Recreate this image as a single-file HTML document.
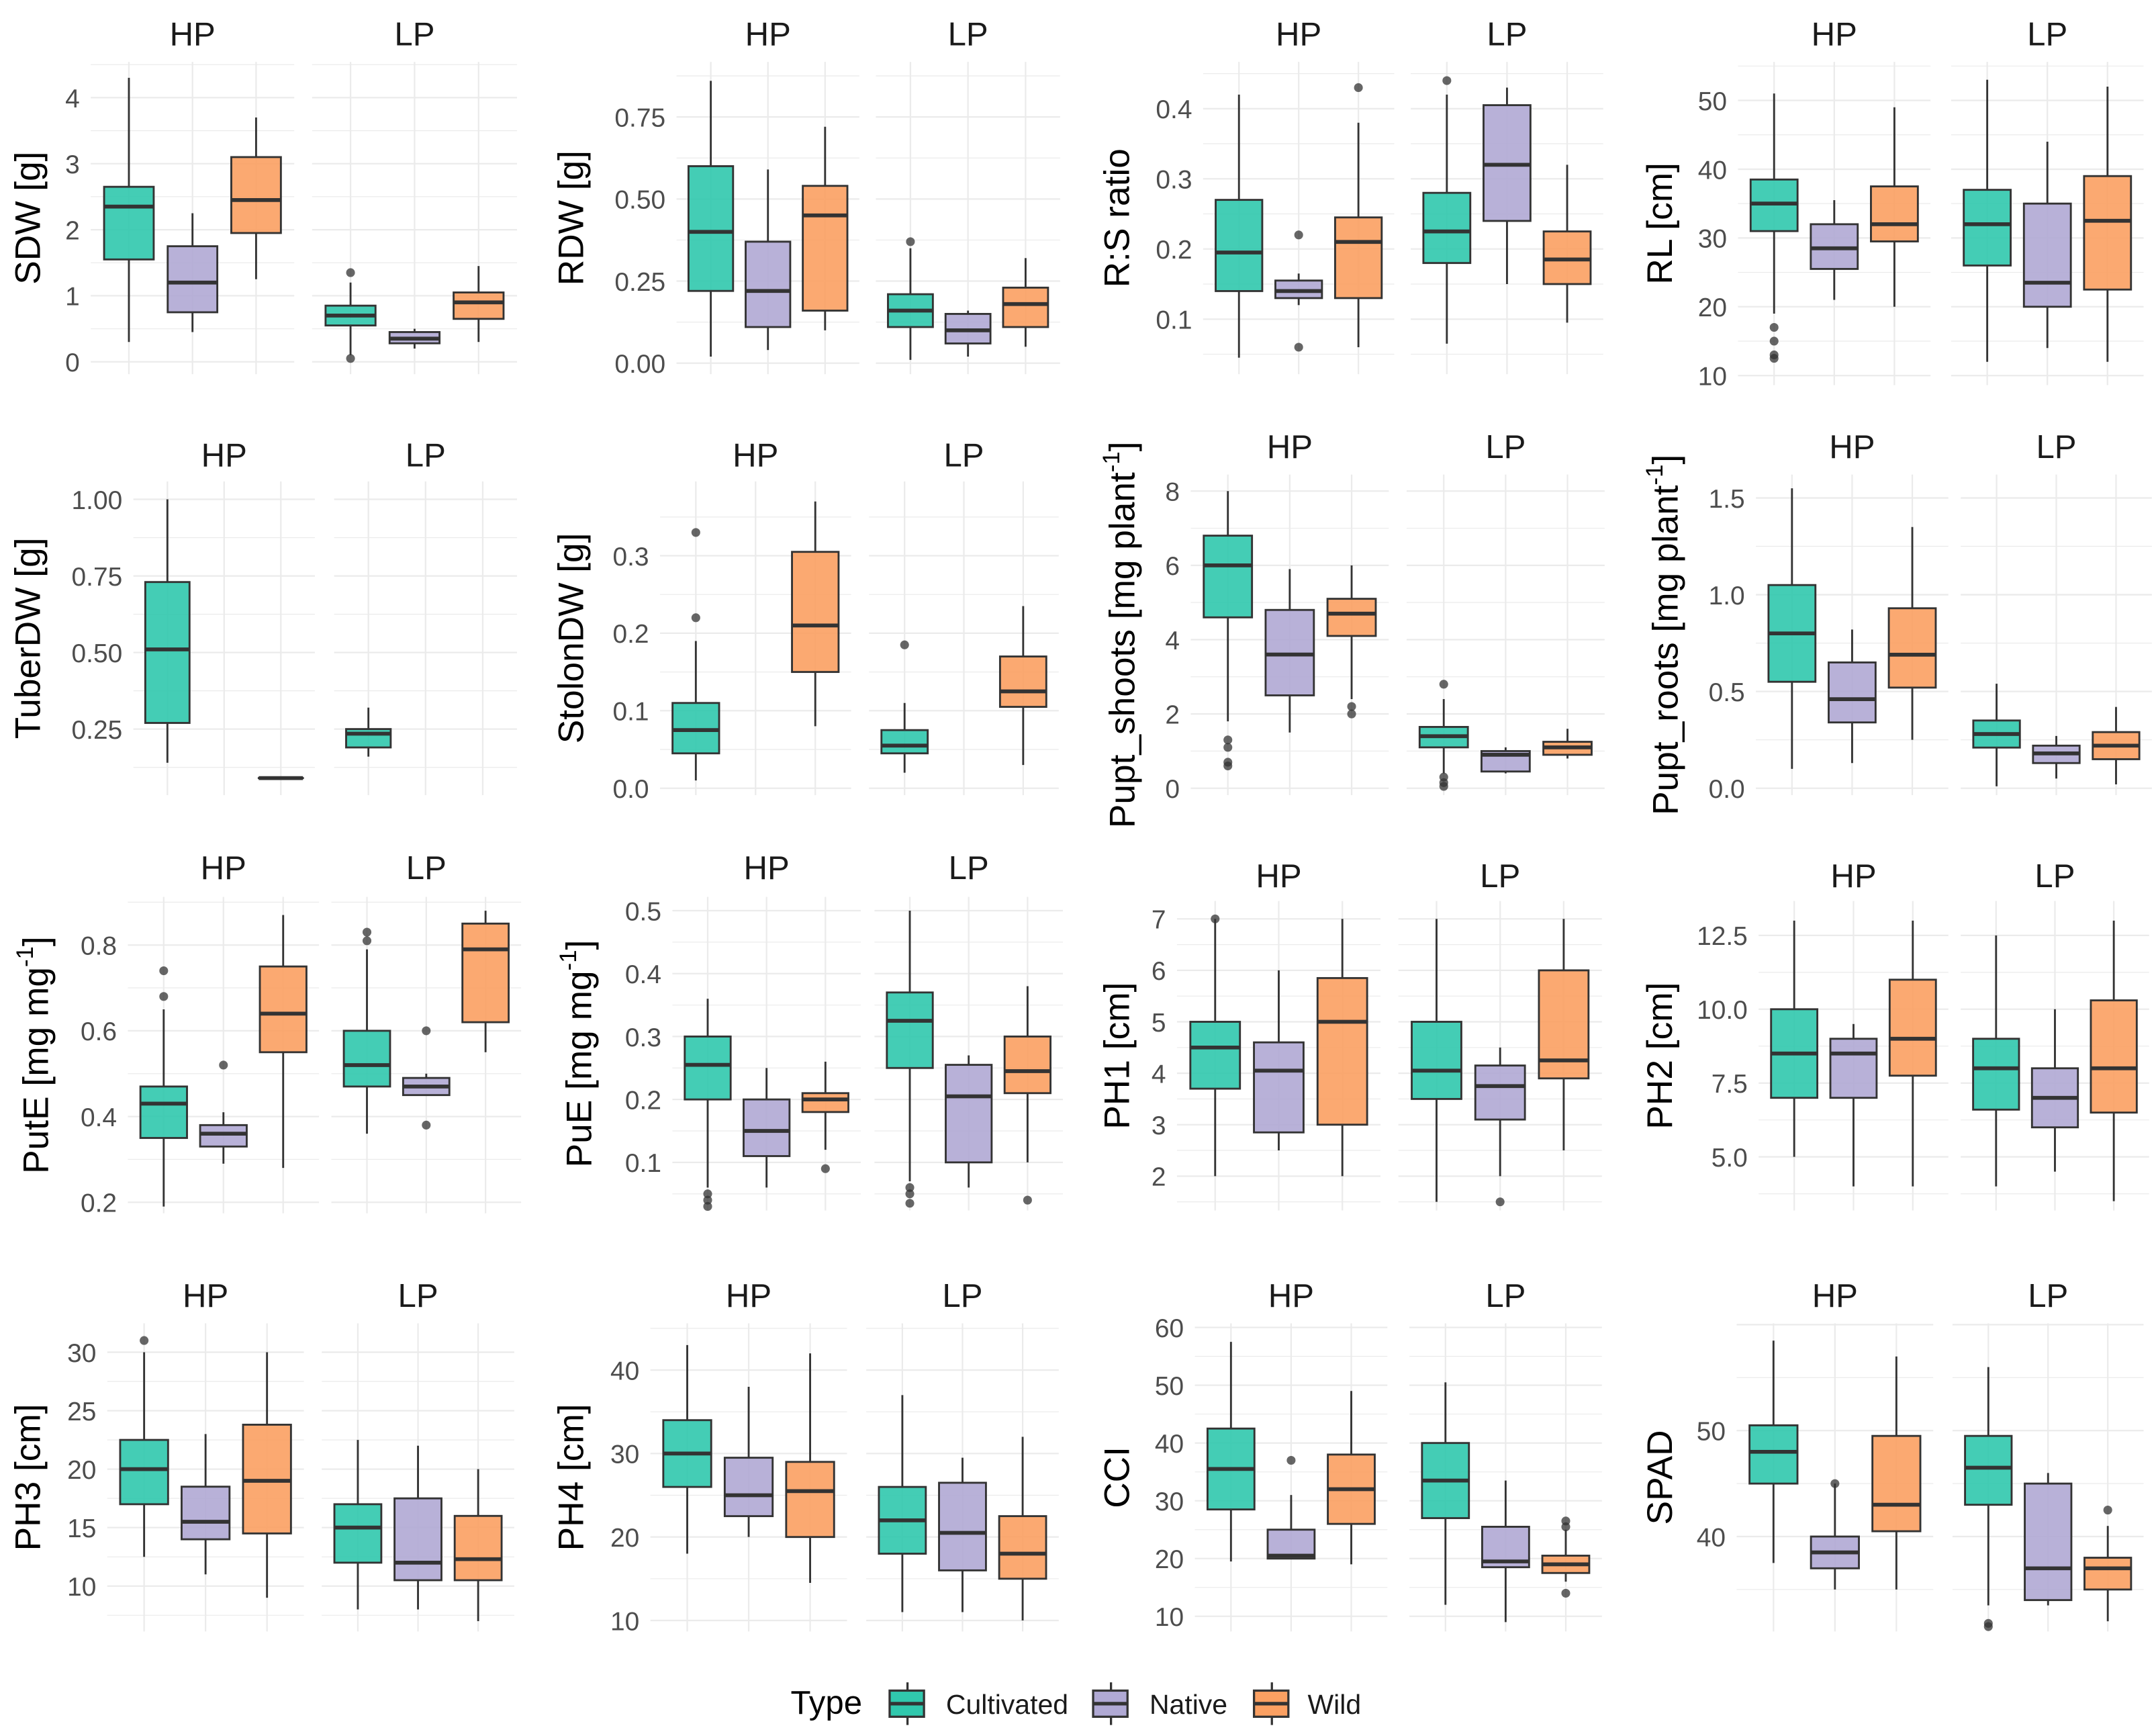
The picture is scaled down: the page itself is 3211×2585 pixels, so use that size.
<!DOCTYPE html>
<html><head><meta charset="utf-8">
<style>
html,body{margin:0;padding:0;background:#fff;}
svg{display:block;}
text{font-family:"Liberation Sans",Arial,sans-serif;}
</style></head>
<body>
<svg id="chart" xmlns="http://www.w3.org/2000/svg" width="3211" height="2585" viewBox="0 0 1568 1262" preserveAspectRatio="none">
<rect width="1568" height="1262" fill="#fff"/>
<g id="legend">
  <text x="575" y="1246" font-size="24" fill="#000">Type</text>
  <g>
    <line x1="660" y1="1223" x2="660" y2="1254" stroke="#333" stroke-width="1.6"/>
    <rect x="647" y="1229" width="25" height="19" fill="#30c8ad" stroke="#333" stroke-width="1.6"/>
    <line x1="647" y1="1238.5" x2="672" y2="1238.5" stroke="#333" stroke-width="2.6"/>
    <text x="688" y="1246" font-size="20" fill="#1a1a1a">Cultivated</text>
  </g>
  <g>
    <line x1="808" y1="1223" x2="808" y2="1254" stroke="#333" stroke-width="1.6"/>
    <rect x="795" y="1229" width="25" height="19" fill="#b0a9d4" stroke="#333" stroke-width="1.6"/>
    <line x1="795" y1="1238.5" x2="820" y2="1238.5" stroke="#333" stroke-width="2.6"/>
    <text x="836" y="1246" font-size="20" fill="#1a1a1a">Native</text>
  </g>
  <g>
    <line x1="925" y1="1223" x2="925" y2="1254" stroke="#333" stroke-width="1.6"/>
    <rect x="912" y="1229" width="25" height="19" fill="#fba062" stroke="#333" stroke-width="1.6"/>
    <line x1="912" y1="1238.5" x2="937" y2="1238.5" stroke="#333" stroke-width="2.6"/>
    <text x="951" y="1246" font-size="20" fill="#1a1a1a">Wild</text>
  </g>
</g>
</svg>
<script>
// ---- data: each stats array = [HP-Cult, HP-Native, HP-Wild, LP-Cult, LP-Native, LP-Wild]
// each entry: [lowWhisker, q1, median, q3, highWhisker, [outliers]] or null
const types = ["Cultivated","Native","Wild"];
const facets = ["HP","LP"];
const colors = ["#30c8ad","#b0a9d4","#fba062"];

const statsSDW = [[0.3,1.55,2.35,2.65,4.3,[]],[0.45,0.75,1.2,1.75,2.25,[]],[1.25,1.95,2.45,3.1,3.7,[]],
  [0.1,0.55,0.7,0.85,1.2,[1.35,0.05]],[0.2,0.28,0.35,0.45,0.5,[]],[0.3,0.65,0.9,1.05,1.45,[]]];
const ticksSDW = [0,1,2,3,4];
const statsRDW = [[0.02,0.22,0.4,0.6,0.86,[]],[0.04,0.11,0.22,0.37,0.59,[]],[0.1,0.16,0.45,0.54,0.72,[]],
  [0.01,0.11,0.16,0.21,0.35,[0.37]],[0.02,0.06,0.1,0.15,0.16,[]],[0.05,0.11,0.18,0.23,0.32,[]]];
const ticksRDW = ["0.00","0.25","0.50","0.75"];
const statsRS = [[0.045,0.14,0.195,0.27,0.42,[]],[0.12,0.13,0.14,0.155,0.165,[0.22,0.06]],[0.06,0.13,0.21,0.245,0.38,[0.43]],
  [0.065,0.18,0.225,0.28,0.42,[0.44]],[0.15,0.24,0.32,0.405,0.43,[]],[0.095,0.15,0.185,0.225,0.32,[]]];
const ticksRS = ["0.1","0.2","0.3","0.4"];
const statsRL = [[19,31,35,38.5,51,[17,15,13,12.5]],[21,25.5,28.5,32,35.5,[]],[20,29.5,32,37.5,49,[]],
  [12,26,32,37,53,[]],[14,20,23.5,35,44,[]],[12,22.5,32.5,39,52,[]]];
const ticksRL = [10,20,30,40,50];
const statsTuber = [[0.14,0.27,0.51,0.73,1.0,[]],null,[0.09,0.09,0.09,0.09,0.09,[]],
  [0.16,0.19,0.235,0.25,0.32,[]],null,null];
const ticksTuber = ["0.25","0.50","0.75","1.00"];
const statsStolon = [[0.01,0.045,0.075,0.11,0.19,[0.22,0.33]],null,[0.08,0.15,0.21,0.305,0.37,[]],
  [0.02,0.045,0.055,0.075,0.11,[0.185]],null,[0.03,0.105,0.125,0.17,0.235,[]]];
const ticksStolon = ["0.0","0.1","0.2","0.3"];
const statsPshoot = [[1.8,4.6,6.0,6.8,8.0,[1.3,1.1,0.7,0.6]],[1.5,2.5,3.6,4.8,5.9,[]],[2.4,4.1,4.7,5.1,6.0,[2.2,2.0]],
  [0.4,1.1,1.4,1.65,2.4,[2.8,0.3,0.15,0.05]],[0.4,0.45,0.9,1.0,1.1,[]],[0.8,0.9,1.1,1.25,1.6,[]]];
const ticksPshoot = [0,2,4,6,8];
const statsProot = [[0.1,0.55,0.8,1.05,1.55,[]],[0.13,0.34,0.46,0.65,0.82,[]],[0.25,0.52,0.69,0.93,1.35,[]],
  [0.01,0.21,0.28,0.35,0.54,[]],[0.05,0.13,0.18,0.22,0.27,[]],[0.02,0.15,0.22,0.29,0.42,[]]];
const ticksProot = ["0.0","0.5","1.0","1.5"];
const statsPutE = [[0.19,0.35,0.43,0.47,0.65,[0.68,0.74]],[0.29,0.33,0.36,0.38,0.41,[0.52]],[0.28,0.55,0.64,0.75,0.87,[]],
  [0.36,0.47,0.52,0.60,0.79,[0.81,0.83]],[0.45,0.45,0.47,0.49,0.5,[0.6,0.38]],[0.55,0.62,0.79,0.85,0.88,[]]];
const ticksPutE = ["0.2","0.4","0.6","0.8"];
const statsPuE = [[0.06,0.2,0.255,0.3,0.36,[0.05,0.04,0.03]],[0.06,0.11,0.15,0.2,0.25,[]],[0.12,0.18,0.2,0.21,0.26,[0.09]],
  [0.07,0.25,0.325,0.37,0.5,[0.06,0.05,0.035]],[0.06,0.1,0.205,0.255,0.27,[]],[0.1,0.21,0.245,0.3,0.38,[0.04]]];
const ticksPuE = ["0.1","0.2","0.3","0.4","0.5"];
const statsPH1 = [[2,3.7,4.5,5,7,[7]],[2.5,2.85,4.05,4.6,6,[]],[2,3,5,5.85,7,[]],
  [1.5,3.5,4.05,5,7,[]],[2,3.1,3.75,4.15,4.5,[1.5]],[2.5,3.9,4.25,6,7,[]]];
const ticksPH1 = [2,3,4,5,6,7];
const statsPH2 = [[5,7,8.5,10,13,[]],[4,7,8.5,9,9.5,[]],[4,7.75,9,11,13,[]],
  [4,6.6,8,9,12.5,[]],[4.5,6,7,8,10,[]],[3.5,6.5,8,10.3,13,[]]];
const ticksPH2 = ["5.0","7.5","10.0","12.5"];
const statsPH3 = [[12.5,17,20,22.5,30,[31]],[11,14,15.5,18.5,23,[]],[9,14.5,19,23.8,30,[]],
  [8,12,15,17,22.5,[]],[8,10.5,12,17.5,22,[]],[7,10.5,12.3,16,20,[]]];
const ticksPH3 = [10,15,20,25,30];
const statsPH4 = [[18,26,30,34,43,[]],[20,22.5,25,29.5,38,[]],[14.5,20,25.5,29,42,[]],
  [11,18,22,26,37,[]],[11,16,20.5,26.5,29.5,[]],[10,15,18,22.5,32,[]]];
const ticksPH4 = [10,20,30,40];
const statsCCI = [[19.5,28.5,35.5,42.5,57.5,[]],[20,20,20.5,25,31,[37]],[19,26,32,38,49,[]],
  [12,27,33.5,40,50.5,[]],[9,18.5,19.5,25.5,33.5,[]],[16,17.5,19,20.5,25,[26.5,25.5,14]]];
const ticksCCI = [10,20,30,40,50,60];
const statsSPAD = [[37.5,45,48,50.5,58.5,[]],[35,37,38.5,40,45,[45]],[35,40.5,43,49.5,57,[]],
  [33.5,43,46.5,49.5,56,[31.8,31.5]],[33.5,34,37,45,46,[]],[32,35,37,38,41,[42.5]]];
const ticksSPAD = [40,50];

// ---- layout (pixel geometry only)
const panels = [
 {id:"sdw",title:["SDW [g]"],stats:statsSDW,ticks:ticksSDW,hp:[66,214],lp:[227,376],py:[45,272],a:[0,263,4,71],strip:24,tx:20},
 {id:"rdw",title:["RDW [g]"],stats:statsRDW,ticks:ticksRDW,hp:[492,625],lp:[637,771],py:[45,272],a:[0,264,0.75,85],strip:24,tx:415},
 {id:"rs",title:["R:S ratio"],stats:statsRS,ticks:ticksRS,hp:[875,1014],lp:[1026,1166],py:[45,272],a:[0.1,232,0.4,79],strip:24,tx:812},
 {id:"rl",title:["RL [cm]"],stats:statsRL,ticks:ticksRL,hp:[1264,1404],lp:[1419,1559],py:[45,280],a:[10,273,50,73],strip:24,tx:1207},
 {id:"tuber",title:["TuberDW [g]"],stats:statsTuber,ticks:ticksTuber,hp:[97,229],lp:[243,376],py:[350,578],a:[0.25,530,1.0,363],strip:330,tx:20},
 {id:"stolon",title:["StolonDW [g]"],stats:statsStolon,ticks:ticksStolon,hp:[480,619],lp:[632,770],py:[350,578],a:[0,573,0.3,404],strip:330,tx:415},
 {id:"pshoot",title:["Pupt_shoots [mg plant","-1","]"],stats:statsPshoot,ticks:ticksPshoot,hp:[866,1010],lp:[1023,1167],py:[345,578],a:[0,573,8,357],strip:324,tx:816},
 {id:"proot",title:["Pupt_roots [mg plant","-1","]"],stats:statsProot,ticks:ticksProot,hp:[1277,1417],lp:[1426,1565],py:[345,578],a:[0,573,1.5,362],strip:324,tx:1211},
 {id:"pute",title:["PutE [mg mg","-1","]"],stats:statsPutE,ticks:ticksPutE,hp:[93,232],lp:[241,379],py:[652,882],a:[0.2,874,0.8,687],strip:630,tx:26},
 {id:"pue",title:["PuE [mg mg","-1","]"],stats:statsPuE,ticks:ticksPuE,hp:[489,626],lp:[636,773],py:[652,880],a:[0.1,845,0.5,662],strip:630,tx:421},
 {id:"ph1",title:["PH1 [cm]"],stats:statsPH1,ticks:ticksPH1,hp:[856,1004],lp:[1017,1165],py:[655,880],a:[2,855,7,668],strip:636,tx:812},
 {id:"ph2",title:["PH2 [cm]"],stats:statsPH2,ticks:ticksPH2,hp:[1279,1417],lp:[1426,1563],py:[655,880],a:[5,841,12.5,680],strip:636,tx:1207},
 {id:"ph3",title:["PH3 [cm]"],stats:statsPH3,ticks:ticksPH3,hp:[78,221],lp:[234,374],py:[962,1186],a:[10,1153,30,983],strip:941,tx:20},
 {id:"ph4",title:["PH4 [cm]"],stats:statsPH4,ticks:ticksPH4,hp:[473,616],lp:[630,770],py:[962,1186],a:[10,1178,40,996],strip:941,tx:415},
 {id:"cci",title:["CCI"],stats:statsCCI,ticks:ticksCCI,hp:[869,1009],lp:[1025,1165],py:[962,1186],a:[10,1175,60,965],strip:941,tx:812},
 {id:"spad",title:["SPAD"],stats:statsSPAD,ticks:ticksSPAD,hp:[1263,1406],lp:[1420,1559],py:[962,1186],a:[40,1117,50,1040],strip:941,tx:1207}
];

const NS = "http://www.w3.org/2000/svg";
const svg = document.getElementById("chart");
const legend = document.getElementById("legend");
function mk(tag, attrs, parent){
  const e = document.createElementNS(NS, tag);
  for (const k in attrs) e.setAttribute(k, attrs[k]);
  parent.appendChild(e);
  return e;
}

panels.forEach(p => {
  const g = mk("g", {}, svg);
  svg.insertBefore(g, legend);
  
  
  const [v0, p0, v1, p1] = p.a;
  const y = v => p0 + (parseFloat(v) - v0) * (p1 - p0) / (v1 - v0);
  const tickVals = p.ticks.map(t => parseFloat(t));
  const step = tickVals.length > 1 ? tickVals[1] - tickVals[0] : 1;
  [p.hp, p.lp].forEach((fx, fi) => {
    const gg = mk("g", {}, g);
    
    
    for (let v = tickVals[0] - step * 2; v <= tickVals[tickVals.length-1] + step * 2 + 1e-9; v += step / 2) {
      const yy = y(v);
      if (yy < p.py[0] || yy > p.py[1]) continue;
      const major = Math.abs(((v - tickVals[0]) / step) - Math.round((v - tickVals[0]) / step)) < 1e-6;
      mk("line", {x1: fx[0], x2: fx[1], y1: yy, y2: yy, stroke: "#ebebeb", "stroke-width": major ? 1.1 : 0.6}, gg);
    }
    const s = (fx[1] - fx[0]) / 3.2;
    for (let i = 0; i < 3; i++) {
      const cx = fx[0] + s * (0.6 + i);
      mk("line", {x1: cx, x2: cx, y1: p.py[0], y2: p.py[1], stroke: "#ebebeb", "stroke-width": 1.1}, gg);
    }
    const st = mk("text", {x: (fx[0] + fx[1]) / 2, y: p.strip + 9, "font-size": 24, "text-anchor": "middle", fill: "#1a1a1a"}, g);
    st.textContent = facets[fi];
    
    
  });
  p.ticks.forEach(t => {
    const tl = mk("text", {x: p.hp[0] - 8, y: y(t) + 7, "font-size": 19, "text-anchor": "end", fill: "#4d4d4d"}, g);
    tl.textContent = String(t);
    
    
  });
  const cy = (p.py[0] + p.py[1]) / 2;
  const tt = mk("text", {x: p.tx, y: cy, "font-size": 26, "text-anchor": "middle", fill: "#000", transform: "rotate(-90 " + p.tx + " " + cy + ") translate(0 9)"}, g);
  
  
  if (p.title.length === 1) tt.textContent = p.title[0];
  else {
    const a = mk("tspan", {}, tt); a.textContent = p.title[0];
    const b = mk("tspan", {"font-size": 17, dy: -11}, tt); b.textContent = p.title[1];
    const c = mk("tspan", {dy: 11}, tt); c.textContent = p.title[2];
  }
  p.stats.forEach((d, k) => {
    if (!d) return;
    const fx = k < 3 ? p.hp : p.lp;
    const i = k % 3;
    const s = (fx[1] - fx[0]) / 3.2;
    const cx = fx[0] + s * (0.6 + i);
    const w = s * 0.78;
    const bg = mk("g", {}, g);
    
    
    mk("line", {x1: cx, x2: cx, y1: y(d[4]), y2: y(d[3]), stroke: "#333", "stroke-width": 1.4}, bg);
    mk("line", {x1: cx, x2: cx, y1: y(d[1]), y2: y(d[0]), stroke: "#333", "stroke-width": 1.4}, bg);
    const top = y(d[3]), bot = y(d[1]);
    mk("rect", {x: cx - w/2, y: top, width: w, height: Math.max(bot - top, 0.01), fill: colors[i], "fill-opacity": 0.9, stroke: "#333", "stroke-width": 1.4}, bg);
    mk("line", {x1: cx - w/2, x2: cx + w/2, y1: y(d[2]), y2: y(d[2]), stroke: "#333", "stroke-width": 2.8}, bg);
    d[5].forEach(o => {
      const c = mk("circle", {cx: cx, cy: y(o), r: 3.2, fill: "#333", "fill-opacity": 0.75}, bg);
      
      
    });
  });
});
</script>
</body></html>
